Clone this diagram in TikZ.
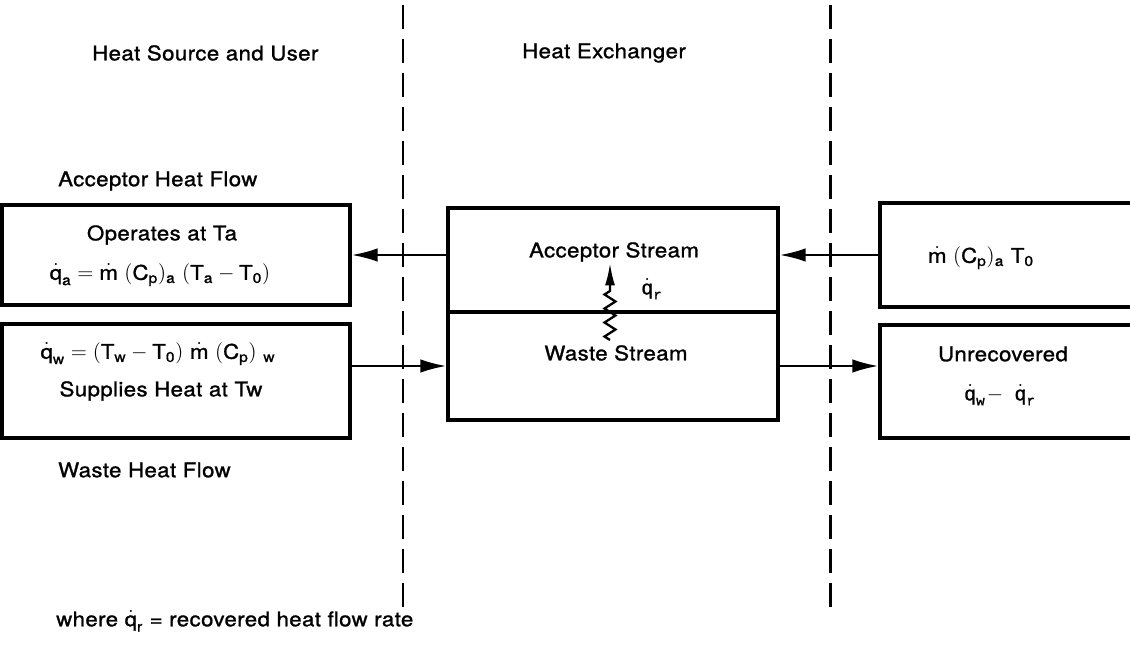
\documentclass[tikz,border=0pt]{standalone}
\usepackage{amsmath}
\usepackage{fontspec}
\setmainfont{TeX Gyre Heros}[FakeStretch=1.1, FakeBold=1.2, LetterSpace=2]
\setsansfont{TeX Gyre Heros}[FakeStretch=1.1, FakeBold=1.2, LetterSpace=2]
\setmonofont{Liberation Mono}[FakeBold=1.2]
\usetikzlibrary{arrows.meta,decorations.pathmorphing}
\newcommand{\sv}[1]{\text{\sffamily #1}}
\newcommand{\tv}[1]{\text{\ttfamily #1}}

\begin{document}
\begin{tikzpicture}[x=0.02cm, y=-0.02cm,
	font=\fontsize{11.5}{14}\selectfont,
	box/.style = {draw, line width=1.8pt, inner sep=0pt},
	flow/.style = {line width=1.4pt, -{Latex[length=0.52cm,width=0.27cm]}},
	heat/.style = {line width=1.3pt, -{Latex[length=0.45cm,width=0.2cm]}, decorate,
		decoration={zigzag, amplitude=0.11cm, segment length=0.28cm, post length=0.5cm}},
	divide/.style = {line width=1.7pt, dash pattern=on 0.48cm off 0.2cm}]
	\useasboundingbox (0,0) rectangle (1130,645);

	% region dividers
	\coordinate (d1t) at (403,5);
	\coordinate (d1b) at (403,608);
	\coordinate (d2t) at (830,5);
	\coordinate (d2b) at (830,615);
	\draw[divide] (d1t) -- (d1b);
	\draw[divide] (d2t) -- (d2b);

	% headings
	\node[anchor=west] (hsrc) at (86,53) {Heat Source and User};
	\node[anchor=west] (hexc) at (516,53) {Heat Exchanger};
	\node[anchor=west] (hacc) at (52,181) {Acceptor Heat Flow};
	\node[anchor=west] (hwst) at (52,470) {Waste Heat Flow};
	\node[anchor=west] (note) at (50,621) {where $\dot{\sv q}_{\sv r}$ = recovered heat flow rate};

	% source and user
	\node[box, minimum width=6.96cm, minimum height=2.0cm] (atop) at (176,255) {};
	\node (atop1) at (162,235) {Operates at Ta};
	\node (atop2) at (160,275) {$\dot{\sv q}_{\sv a} = \dot{\sv m}\ (\sv C_{\sv p})_{\sv a}\ (\sv T_{\sv a} - \sv T_{\sv 0})$};
	\node[box, minimum width=6.96cm, minimum height=2.28cm] (lbot) at (176,381) {};
	\node (lbot1) at (158,354) {$\dot{\sv q}_{\sv w} = (\sv T_{\sv w} - \sv T_{\sv 0})\ \dot{\sv m}\ (\sv C_{\sv p})\ _{\sv w}$};
	\node (lbot2) at (161,391) {Supplies Heat at Tw};

	% exchanger
	\node[box, minimum width=6.6cm, minimum height=2.08cm] (acc) at (613,260) {};
	\node[box, minimum width=6.6cm, minimum height=2.16cm] (waste) at (613,366) {};
	\node (acc1) at (614,252) {Acceptor Stream};
	\node (waste1) at (616,353) {Waste Stream};
	\coordinate (zbot) at (610,340);
	\coordinate (ztop) at (610,263);
	\draw[heat] (zbot) -- (ztop);
	\node (qr) at (652,289) {$\dot{\tv q}_{\tv r}$};

	% surroundings
	\node[box, minimum width=5.4cm, minimum height=2.08cm] (rtop) at (1015,255) {};
	\node (rtop1) at (981,258) {$\dot{\sv m}\ (\sv C_{\sv p})_{\sv a}\ \sv T_{\sv 0}$};
	\node[box, minimum width=5.4cm, minimum height=2.26cm] (rbot) at (1015,381.5) {};
	\node (rbot1) at (1003,354) {Unrecovered};
	\node (rbot2) at (1000,395) {$\dot{\tv q}_{\tv w}\!-\ \dot{\tv q}_{\tv r}$};

	% flows
	\draw[flow] (acc.west |- atop.east) -- (atop.east);
	\draw[flow] (rtop.west) -- (acc.east |- rtop.west);
	\draw[flow] (lbot.east |- waste.west) -- (waste.west);
	\draw[flow] (waste.east) -- (rbot.west |- waste.east);
\end{tikzpicture}
\end{document}
